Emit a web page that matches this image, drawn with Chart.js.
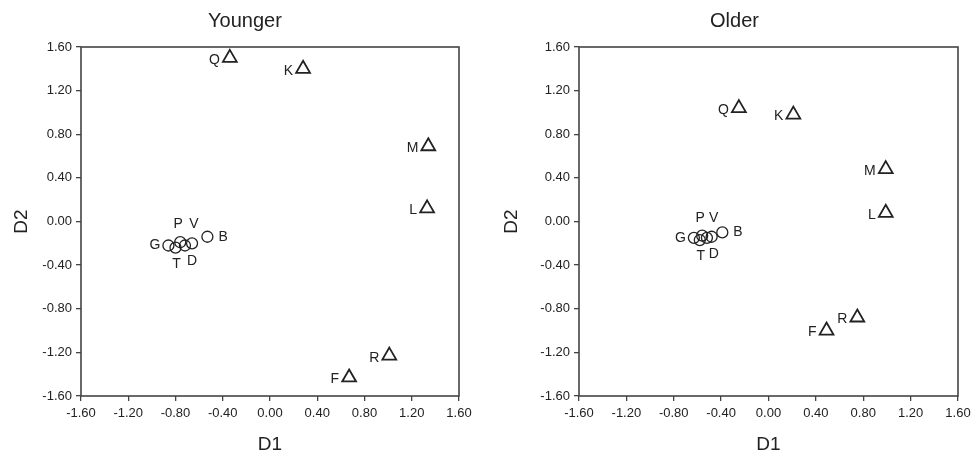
<!DOCTYPE html>
<html>
<head>
<meta charset="utf-8">
<script src="https://cdn.jsdelivr.net/npm/chart.js@4.4.0/dist/chart.umd.min.js"></script>
<style>
  html, body { margin: 0; padding: 0; background: #fff; }
  #wrap { position: relative; width: 979px; height: 462px; }
  #younger { position: absolute; left: 0; top: 0; }
  #older { position: absolute; left: 490px; top: 0; }
</style>
</head>
<body>
<div id="wrap">
  <canvas id="younger" width="490" height="462"></canvas>
  <canvas id="older" width="489" height="462"></canvas>
</div>
<script>
'use strict';

// letters plotted as triangles and as circles
var triangleNames = ['Q', 'K', 'M', 'L', 'R', 'F'];
var circleNames   = ['G', 'T', 'P', 'D', 'V', 'B'];

// Younger panel
var youngerTriD1 = [-0.34, 0.28, 1.34, 1.33, 1.01, 0.67];
var youngerTriD2 = [1.50, 1.40, 0.69, 0.12, -1.23, -1.43];
var youngerCirD1 = [-0.86, -0.80, -0.76, -0.72, -0.66, -0.53];
var youngerCirD2 = [-0.22, -0.24, -0.19, -0.22, -0.20, -0.14];

// Older panel
var olderTriD1 = [-0.25, 0.21, 0.99, 0.99, 0.75, 0.49];
var olderTriD2 = [1.04, 0.98, 0.48, 0.08, -0.88, -1.00];
var olderCirD1 = [-0.63, -0.58, -0.56, -0.52, -0.48, -0.39];
var olderCirD2 = [-0.15, -0.17, -0.13, -0.15, -0.14, -0.10];

// tick values shared by both axes of both panels
var axisTicks = [-1.6, -1.2, -0.8, -0.4, 0, 0.4, 0.8, 1.2, 1.6];

// where each letter sits relative to its marker (pixels)
var labelStyle = {
    Q: { dx: -10, dy: 2, align: 'right' },
    K: { dx: -10, dy: 2, align: 'right' },
    M: { dx: -10, dy: 2, align: 'right' },
    L: { dx: -10, dy: 2, align: 'right' },
    R: { dx: -10, dy: 2, align: 'right' },
    F: { dx: -10, dy: 2, align: 'right' },
    G: { dx: -8,  dy: 0, align: 'right' },
    T: { dx: 1,   dy: 16, align: 'center' },
    P: { dx: -2,  dy: -18, align: 'center' },
    D: { dx: 7,   dy: 16, align: 'center' },
    V: { dx: 2,   dy: -19, align: 'center' },
    B: { dx: 11,  dy: 0, align: 'left' }
};

var INK = '#222';
var FRAME = '#444';
Chart.defaults.font.family = "'Liberation Sans', Arial, Helvetica, sans-serif";
Chart.defaults.color = INK;

function toPoints(xs, ys) {
    return xs.map(function(x, i) { return { x: x, y: ys[i] }; });
}

var framePlugin = {
    id: 'frame',
    afterDraw: function(chart) {
        var a = chart.chartArea, ctx = chart.ctx;
        ctx.save();
        ctx.strokeStyle = FRAME;
        ctx.lineWidth = 1.6;
        ctx.strokeRect(a.left, a.top, a.right - a.left, a.bottom - a.top);
        ctx.restore();
    }
};

var pointLabelPlugin = {
    id: 'pointLabels',
    afterDatasetsDraw: function(chart) {
        var ctx = chart.ctx;
        ctx.save();
        ctx.fillStyle = INK;
        ctx.font = "14px 'Liberation Sans', Arial, sans-serif";
        ctx.textBaseline = 'middle';
        chart.data.datasets.forEach(function(ds, i) {
            var meta = chart.getDatasetMeta(i);
            meta.data.forEach(function(pt, j) {
                var name = ds.names[j];
                var s = labelStyle[name];
                ctx.textAlign = s.align;
                ctx.fillText(name, pt.x + s.dx, pt.y + s.dy);
            });
        });
        ctx.restore();
    }
};

function makeChart(id, title, tri, cir, leftWidth, rightWidth) {
    var fixTicks = function(scale) {
        scale.ticks = axisTicks.map(function(v) { return { value: v }; });
    };
    var fmt = function(v) { return Number(v).toFixed(2); };

    return new Chart(document.getElementById(id), {
        type: 'scatter',
        data: {
            datasets: [{
                names: triangleNames,
                data: tri,
                pointStyle: 'triangle',
                pointRadius: 8,
                pointBorderWidth: 1.8,
                borderColor: INK,
                backgroundColor: 'rgba(0,0,0,0)'
            }, {
                names: circleNames,
                data: cir,
                pointStyle: 'circle',
                pointRadius: 5.5,
                pointBorderWidth: 1.3,
                borderColor: INK,
                backgroundColor: 'rgba(0,0,0,0)'
            }]
        },
        options: {
            responsive: false,
            animation: false,
            layout: { padding: 0 },
            plugins: {
                legend: { display: false },
                tooltip: { enabled: false },
                title: {
                    display: true,
                    text: title,
                    color: INK,
                    font: { size: 20, weight: 'normal' },
                    padding: { top: 9, bottom: 14 }
                }
            },
            scales: {
                x: {
                    type: 'linear',
                    min: -1.6,
                    max: 1.6,
                    afterBuildTicks: fixTicks,
                    afterFit: function(scale) { scale.height = 66; },
                    grid: { drawOnChartArea: false, tickLength: 5, color: FRAME, lineWidth: 1.3 },
                    border: { display: false },
                    ticks: { callback: fmt, font: { size: 13 }, padding: 5, maxRotation: 0, color: INK },
                    title: { display: true, text: 'D1', font: { size: 19 }, color: INK, padding: { top: 0, bottom: 6 } }
                },
                y: {
                    type: 'linear',
                    min: -1.6,
                    max: 1.6,
                    afterBuildTicks: fixTicks,
                    afterFit: function(scale) { scale.width = leftWidth; },
                    grid: { drawOnChartArea: false, tickLength: 5, color: FRAME, lineWidth: 1.3 },
                    border: { display: false },
                    ticks: { callback: fmt, font: { size: 13 }, padding: 4, color: INK },
                    title: { display: true, text: 'D2', font: { size: 19 }, color: INK, padding: { top: 10, bottom: 0 } }
                },
                y2: {
                    type: 'linear',
                    position: 'right',
                    min: -1.6,
                    max: 1.6,
                    afterFit: function(scale) { scale.width = rightWidth; },
                    grid: { display: false },
                    border: { display: false },
                    ticks: { display: false }
                }
            }
        },
        plugins: [framePlugin, pointLabelPlugin]
    });
}

makeChart('younger', 'Younger',
    toPoints(youngerTriD1, youngerTriD2),
    toPoints(youngerCirD1, youngerCirD2), 81, 31);

makeChart('older', 'Older',
    toPoints(olderTriD1, olderTriD2),
    toPoints(olderCirD1, olderCirD2), 89, 21);
</script>
</body>
</html>
